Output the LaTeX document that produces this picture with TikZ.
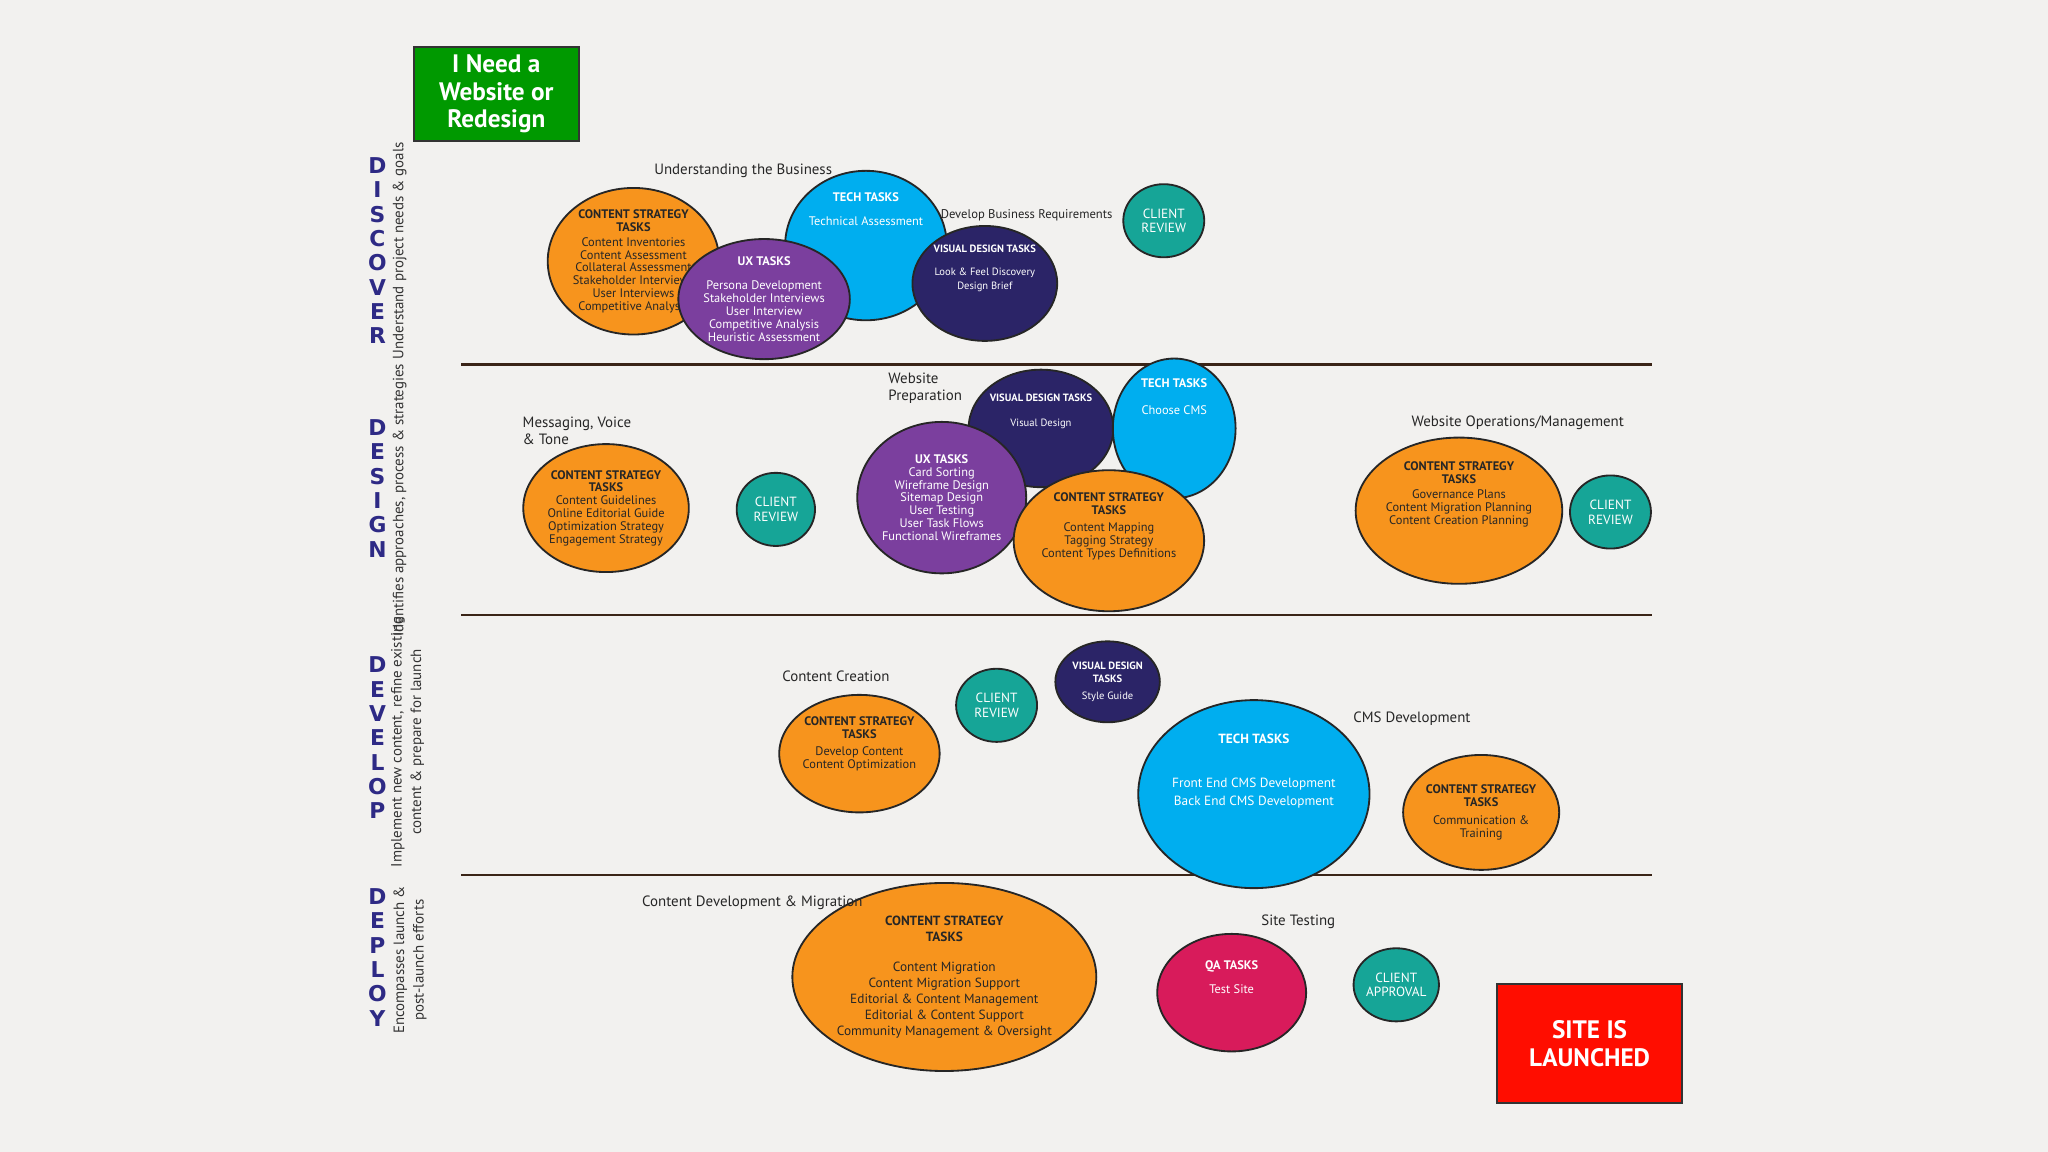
\documentclass[tikz,border=0pt]{standalone}
\usepackage{fontspec}
\setmainfont{PT Sans}
\newfontfamily\stagefont{DejaVu Sans}
\usetikzlibrary{shapes.geometric,calc,backgrounds}

\definecolor{bgc}{HTML}{F2F1EF}
\definecolor{cso}{HTML}{F7941D}
\definecolor{techc}{HTML}{00AEEF}
\definecolor{uxc}{HTML}{7B3F9E}
\definecolor{vdc}{HTML}{2B2467}
\definecolor{revc}{HTML}{16A597}
\definecolor{qac}{HTML}{D81B5B}
\definecolor{linec}{HTML}{3A2417}
\definecolor{stagec}{HTML}{2E2A85}

% tapered connector, wide at #1
\newcommand\taper[3]{\fill[linec] ($(#1)!#3!90:(#2)$) -- ($(#1)!#3!-90:(#2)$) -- (#2) -- cycle;}

\begin{document}
\begin{tikzpicture}%
        [x=0.02cm, y=-0.02cm,
        task/.style={ellipse, draw=black!85, line width=0.8pt, inner sep=0pt, align=center,
                     font=\fontsize{5.4}{5.6}\selectfont},
        cs/.style={task, fill=cso, text=black!85},
        tech/.style={task, fill=techc, text=white},
        ux/.style={task, fill=uxc, text=white},
        vd/.style={task, fill=vdc, text=white},
        rev/.style={task, fill=revc, text=white, font=\fontsize{5.8}{6.4}\selectfont},
        qa/.style={task, fill=qac, text=white},
        goal/.style={draw=black!80, line width=0.8pt, text=white, align=center,
                     font=\fontsize{11}{12}\selectfont\bfseries},
        link/.style={draw=linec, line width=1pt},
        note/.style={font=\fontsize{6.5}{7.5}\selectfont, text=black!85, align=left},
        stage/.style={font=\stagefont\bfseries\fontsize{9.5}{10.6}\selectfont, text=stagec, align=center},
        sub/.style={font=\fontsize{6.5}{8.5}\selectfont, text=black!80, align=center, rotate=90}]

    \fill[bgc] (0,0) rectangle (1568,882);
    \useasboundingbox (0,0) rectangle (1568,882);

    %% stage lines and labels
    \foreach \yy in {279,471,670}
        \draw[linec, line width=1pt] (353,\yy) -- (1265,\yy);
    \node[stage] at (289,192) {D\\I\\S\\C\\O\\V\\E\\R};
    \node[stage] at (289,374) {D\\E\\S\\I\\G\\N};
    \node[stage] at (289,565) {D\\E\\V\\E\\L\\O\\P};
    \node[stage] at (289,733) {D\\E\\P\\L\\O\\Y};
    \node[sub] at (306,192) {Understand project needs \& goals};
    \node[sub] at (306,383) {Identifies approaches, process \& strategies};
    \node[sub] at (312,568) {Implement new content, refine existing\\content \& prepare for launch};
    \node[sub] at (314,735) {Encompasses launch \&\\post-launch efforts};

    %% start and end
    \node[goal, fill=green!60!black, minimum width=2.52cm, minimum height=1.42cm] (start) at (380,72) {I Need a\\Website or\\Redesign};
    \node[goal, fill=red!90!orange, minimum width=2.84cm, minimum height=1.82cm] (launch) at (1217,799) {SITE IS\\LAUNCHED};

    %% discover
    \node[cs, minimum width=2.28cm, minimum height=2.2cm] (csA) at (485,200)
        {\textbf{CONTENT STRATEGY}\\\textbf{TASKS}\\[1pt]Content Inventories\\Content Assessment\\Collateral Assessment\\Stakeholder Interviews\\User Interviews\\Competitive Analysis};
    \node[tech, minimum width=2.04cm, minimum height=1.96cm] (techA) at (663,188)
        {\textbf{TECH TASKS}\\[5pt]Technical Assessment\\[26pt]};
    \node[ux, minimum width=2.2cm, minimum height=1.84cm] (uxA) at (585,229)
        {\textbf{UX TASKS}\\[5pt]Persona Development\\Stakeholder Interviews\\User Interview\\Competitive Analysis\\Heuristic Assessment};
    \node[vd, minimum width=1.88cm, minimum height=1.76cm, font=\fontsize{4.6}{6}\selectfont] (vdA) at (754,217)
        {\textbf{VISUAL DESIGN TASKS}\\[4pt]Look \& Feel Discovery\\Design Brief\\[8pt]};
    \node[rev, minimum width=1.24cm, minimum height=1.12cm] (revA) at (891,169) {CLIENT\\REVIEW};

    %% design
    \node[vd, minimum width=1.92cm, minimum height=1.8cm, font=\fontsize{4.6}{6}\selectfont] (vdB) at (797,328)
        {\textbf{VISUAL DESIGN TASKS}\\[5pt]Visual Design\\[10pt]};
    \node[tech, minimum width=1.88cm, minimum height=1.84cm] (techB) at (899,328)
        {\textbf{TECH TASKS}\\[6pt]Choose CMS\\[22pt]};
    \node[ux, minimum width=2.32cm, minimum height=2.32cm] (uxB) at (721,381)
        {\textbf{UX TASKS}\\Card Sorting\\Wireframe Design\\Sitemap Design\\User Testing\\User Task Flows\\Functional Wireframes};
    \node[cs, minimum width=2.4cm, minimum height=1.96cm] (csB) at (464,389)
        {\textbf{CONTENT STRATEGY}\\\textbf{TASKS}\\Content Guidelines\\Online Editorial Guide\\Optimization Strategy\\Engagement Strategy};
    \node[rev, minimum width=1.2cm, minimum height=1.12cm] (revB) at (594,390) {CLIENT\\REVIEW};
    \node[cs, minimum width=2.28cm, minimum height=2.16cm] (csC) at (849,414)
        {\textbf{CONTENT STRATEGY}\\\textbf{TASKS}\\[2pt]Content Mapping\\Tagging Strategy\\Content Types Definitions\\[8pt]};
    \node[cs, minimum width=2.4cm, minimum height=2.24cm] (csD) at (1117,391)
        {\textbf{CONTENT STRATEGY}\\\textbf{TASKS}\\[1pt]Governance Plans\\Content Migration Planning\\Content Creation Planning\\[10pt]};
    \node[rev, minimum width=1.24cm, minimum height=1.12cm] (revC) at (1233,392) {CLIENT\\REVIEW};

    %% develop
    \node[vd, minimum width=1.6cm, minimum height=1.24cm, font=\fontsize{4.6}{5.4}\selectfont] (vdC) at (848,522)
        {\textbf{VISUAL DESIGN}\\\textbf{TASKS}\\[2pt]Style Guide};
    \node[rev, minimum width=1.24cm, minimum height=1.12cm] (revD) at (763,540) {CLIENT\\REVIEW};
    \node[cs, minimum width=2.32cm, minimum height=1.8cm] (csE) at (658,577)
        {\textbf{CONTENT STRATEGY}\\\textbf{TASKS}\\[2pt]Develop Content\\Content Optimization\\[4pt]};
    \node[tech, minimum width=3.16cm, minimum height=2.88cm, font=\fontsize{5.8}{7}\selectfont] (techC) at (960,608)
        {\textbf{TECH TASKS}\\[12pt]Front End CMS Development\\[1pt]Back End CMS Development\\[14pt]};
    \node[cs, minimum width=2.12cm, minimum height=1.76cm] (csF) at (1134,622)
        {\textbf{CONTENT STRATEGY}\\\textbf{TASKS}\\[2pt]Communication \&\\Training};

    %% deploy
    \node[cs, minimum width=3.48cm, minimum height=2.88cm, font=\fontsize{5.8}{7}\selectfont] (csG) at (723,748)
        {\textbf{CONTENT STRATEGY}\\\textbf{TASKS}\\[6pt]Content Migration\\Content Migration Support\\Editorial \& Content Management\\Editorial \& Content Support\\Community Management \& Oversight};
    \node[qa, minimum width=2.28cm, minimum height=1.8cm] (qa) at (943,760)
        {\textbf{QA TASKS}\\[5pt]Test Site\\[8pt]};
    \node[rev, minimum width=1.24cm, minimum height=1.12cm] (revE) at (1069,754) {CLIENT\\APPROVAL};

    %% notes
    \node[note] at (569,131) {Understanding the Business};
    \node[note, font=\fontsize{5.5}{6}\selectfont] at (786,165) {Develop Business Requirements};
    \node[note, anchor=west] at (674,297) {Website\\Preparation};
    \node[note, anchor=west] at (394,330) {Messaging, Voice\\\& Tone};
    \node[note] at (1162,324) {Website Operations/Management};
    \node[note] at (640,518) {Content Creation};
    \node[note] at (1081,550) {CMS Development};
    \node[note] at (576,691) {Content Development \& Migration};
    \node[note] at (994,706) {Site Testing};

    %% connectors
    \begin{scope}[on background layer]
        \taper{start}{csA.center}{7pt}
        \taper{csA}{csB.center}{2.2pt}
        \taper{uxA}{uxB.center}{6pt}
        \taper{vdA}{vdB.center}{6pt}
        \taper{vdA}{techB.center}{4pt}
        \taper{uxB}{csC.center}{6pt}
        \taper{vdB}{csC.center}{4pt}
        \taper{techB}{csD.center}{8pt}
        \taper{techB}{techC.center}{6pt}
        \taper{csC}{techC.center}{7pt}
        \taper{csC}{csE.center}{9pt}
        \taper{csD}{techC.center}{7pt}
        \taper{csD}{csF.center}{4pt}
        \taper{csB}{csE.center}{8pt}
        \taper{techC}{csE.center}{9pt}
        \taper{csE}{csG.center}{6pt}
        \taper{techC}{csF.center}{9pt}
        \taper{csF}{techC.south}{9pt}
        \taper{techC}{qa.center}{4pt}
        \taper{qa}{csG.center}{8pt}
        \taper{revE}{qa.center}{6pt}
        \taper{launch}{revE.center}{10pt}
        \draw[link] (techA) -- (revA);
        \draw[link] (csB) -- (revB) -- (uxB);
        \draw[link] (csD) -- (revC);
        \draw[link, line width=0.6pt] (csC) -- (vdC);
        \draw[link] (csE) -- (revD);
        \draw[link] (techC.south) -- (csG.center);
    \end{scope}
\end{tikzpicture}
\end{document}
